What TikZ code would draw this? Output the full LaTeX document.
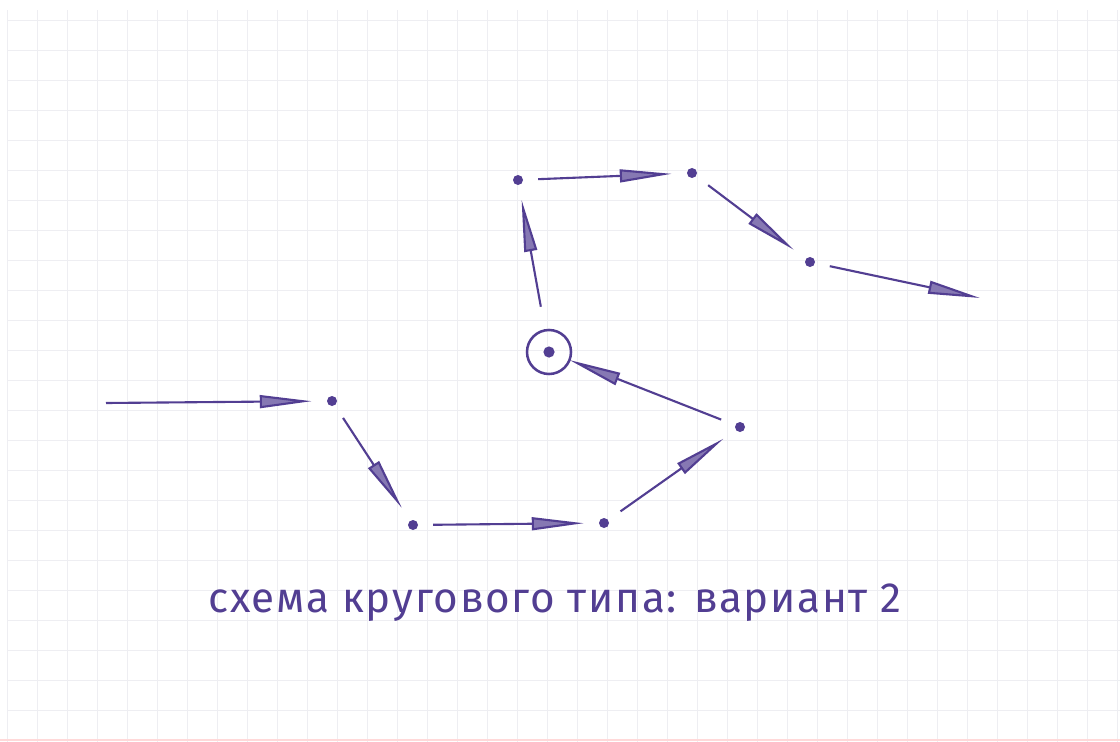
\documentclass[tikz,border=0pt]{standalone}
\usepackage{fontspec}
\setmainfont{Fira Sans}
\usetikzlibrary{arrows.meta, positioning}
\definecolor{ink}{RGB}{82,62,146}
\definecolor{paperline}{RGB}{238,238,242}
\tikzstyle{arrow} = [line width=1.5pt, ink, -{Triangle[length=1.3cm, width=0.32cm, fill=ink!70]}]
\tikzstyle{dot} = [circle, fill=ink, inner sep=0pt, minimum size=0.25cm, outer sep=0.38cm]
\tikzstyle{hub} = [circle, draw=ink, line width=1.8pt, minimum size=1.1cm, outer sep=0pt,
  path picture={\fill[ink] (path picture bounding box.center) circle (0.14cm);}]

\begin{document}
\begin{tikzpicture}[x=0.025cm, y=-0.025cm]
\useasboundingbox (0,0) rectangle (1120,742);

% Paper
\fill[white] (0,0) rectangle (1120,742);
\draw[paperline, line width=0.5pt, step=0.75cm, xshift=0.175cm, yshift=-0.5cm] (0,-10) grid (1113,722);
\draw[red!15, line width=1.5pt] (0,740) -- (1120,740);

% Points of the circuit
\coordinate (in) at (106,403);
\node (a) [dot] at (332,401) {};
\node (b) [dot] at (413,525) {};
\node (c) [dot] at (604,523) {};
\node (d) [dot] at (740,427) {};
\node (hub) [hub] at (549,352) {};
\node (e) [dot] at (518,180) {};
\node (f) [dot] at (692,173) {};
\node (g) [dot] at (810,262) {};
\coordinate (out) at (980,298);

% Connections
\draw [arrow] (in) -- (a);
\draw [arrow] (a) -- (b);
\draw [arrow] (b) -- (c);
\draw [arrow] (c) -- (d);
\draw [arrow] (d) -- (hub);
\draw [arrow, shorten <=0.6cm] (hub) -- (e);
\draw [arrow] (e) -- (f);
\draw [arrow] (f) -- (g);
\draw [arrow] (g) -- (out);

% Caption
\node (caption) [ink, font=\fontsize{30}{34}\selectfont\addfontfeatures{LetterSpace=4}] at (555,603) {схема кругового типа: вариант 2};

\end{tikzpicture}
\end{document}
